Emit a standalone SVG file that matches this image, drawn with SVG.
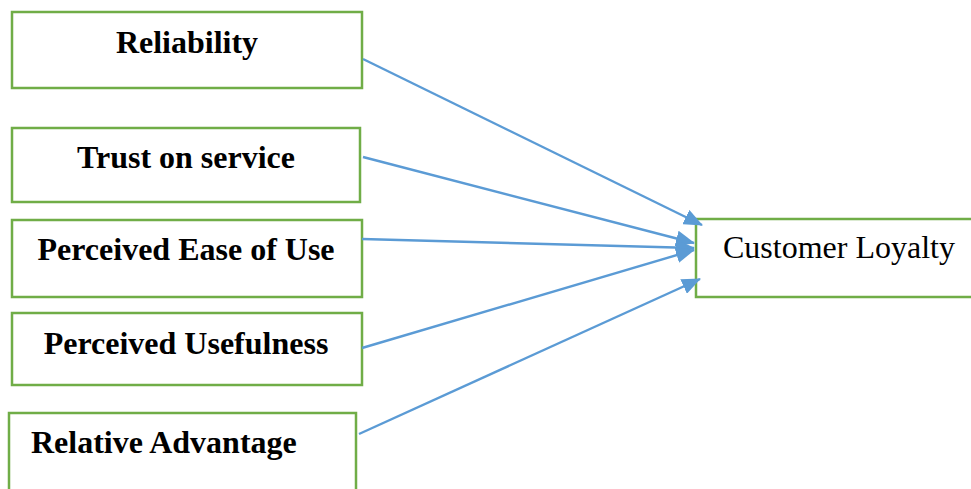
<svg xmlns="http://www.w3.org/2000/svg" width="971" height="489" viewBox="0 0 971 489">
<style>
.box{fill:#fff;stroke:#70AD47;stroke-width:2.5}
.lbl{font-family:"Liberation Serif","Times New Roman",serif;font-size:32px;font-weight:bold;fill:#000}
.lblr{font-family:"Liberation Serif","Times New Roman",serif;font-size:32px;fill:#000}
.conn{stroke:#5B9BD5;stroke-width:2.4;fill:none;marker-end:url(#ah)}
</style>
<defs>
<marker id="ah" markerUnits="userSpaceOnUse" markerWidth="20" markerHeight="16" refX="18" refY="8" orient="auto">
<path d="M0,0 L19,8 L0,16 Z" fill="#5B9BD5"/>
</marker>
</defs>
<rect width="971" height="489" fill="#fff"/>
<g id="n-reliability"><rect class="box" x="12" y="12" width="350" height="76"/><text class="lbl" x="187" y="53" text-anchor="middle">Reliability</text></g>
<g id="n-trust"><rect class="box" x="12" y="128" width="348" height="74"/><text class="lbl" x="186" y="168" text-anchor="middle">Trust on service</text></g>
<g id="n-peou"><rect class="box" x="12" y="220" width="350" height="77"/><text class="lbl" x="186" y="260" text-anchor="middle">Perceived Ease of Use</text></g>
<g id="n-pu"><rect class="box" x="12" y="313" width="350" height="72"/><text class="lbl" x="186" y="354" text-anchor="middle">Perceived Usefulness</text></g>
<g id="n-ra"><rect class="box" x="9" y="413" width="347" height="90"/><text class="lbl" x="31" y="453">Relative Advantage</text></g>
<g id="n-loyalty"><rect class="box" x="696" y="219" width="290" height="78"/><text class="lblr" x="723" y="258">Customer Loyalty</text></g>
<g id="connectors">
<line class="conn" x1="363" y1="59" x2="702" y2="225"/>
<line class="conn" x1="363" y1="157" x2="694" y2="243"/>
<line class="conn" x1="362" y1="239" x2="694" y2="248"/>
<line class="conn" x1="362" y1="348" x2="694" y2="250"/>
<line class="conn" x1="359" y1="434" x2="700" y2="279"/>
</g>
</svg>
